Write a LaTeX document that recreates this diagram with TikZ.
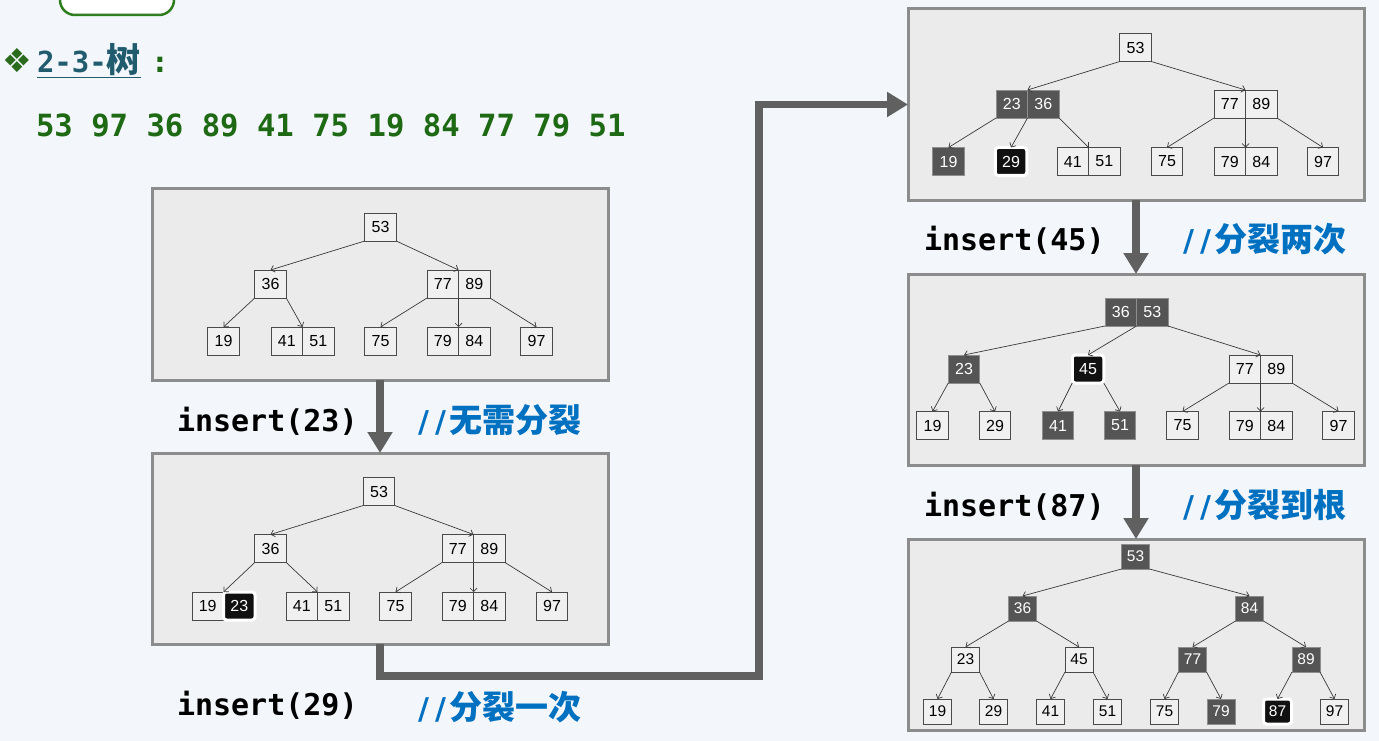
\documentclass[tikz,border=0pt]{standalone}
\usepackage{fontspec}
\usetikzlibrary{arrows.meta}
\newfontfamily\keyf{Liberation Sans}
\newfontfamily\monof{DejaVu Sans Mono}
\newfontfamily\cjkf{Noto Sans CJK SC}
\newfontfamily\djvf{DejaVu Sans}
\definecolor{bgc}{HTML}{F3F7FB}
\definecolor{panelfill}{HTML}{EBEBEB}
\definecolor{panelline}{HTML}{8C8C8C}
\definecolor{bigarr}{HTML}{606060}
\definecolor{kfill}{HTML}{F0F0F0}
\definecolor{kline}{HTML}{4A4A4A}
\definecolor{kdark}{HTML}{555555}
\definecolor{kdarkline}{HTML}{8E8E8E}
\definecolor{khl}{HTML}{111111}
\definecolor{tline}{HTML}{3A3A3A}
\definecolor{numgreen}{HTML}{1E6914}
\definecolor{titleteal}{HTML}{215B6E}
\definecolor{dgreen}{HTML}{2B6B1D}
\definecolor{boxgreen}{HTML}{2E7D1E}
\definecolor{cblue}{HTML}{0070C0}
\tikzset{
  panel/.style={draw=panelline, fill=panelfill, line width=3pt, inner sep=0pt, outer sep=0pt},
  key/.style={draw=kline, fill=kfill, line width=0.8pt, minimum width=31.5pt, minimum height=28pt,
    inner sep=0pt, outer sep=0pt, font=\keyf\fontsize{16pt}{18pt}\selectfont, text=black},
  dk/.style={key, fill=kdark, draw=kdarkline, line width=0.6pt, text=white},
  hl/.style={key, fill=khl, draw=white, line width=3pt, rounded corners=3pt, text=white},
  sk/.style={minimum width=28pt, minimum height=25pt, font=\keyf\fontsize{15.5pt}{17pt}\selectfont},
  tedge/.style={draw=tline, line width=0.7pt, -{Straight Barb[length=3.5pt,width=7pt]}},
  bigarrow/.style={draw=bigarr, line width=7.5pt, -{Triangle[length=21pt,width=24pt]}},
  lbl/.style={inner sep=0pt, outer sep=0pt, anchor=west},
  inslbl/.style={lbl, font=\monof\bfseries\fontsize{30pt}{31pt}\selectfont, text=black},
  cmt/.style={lbl, text=cblue},
}
\newcommand{\slashes}{{\djvf\bfseries\fontsize{30pt}{31pt}\selectfont \makebox[17pt][c]{/}\makebox[17pt][c]{/}}}
\newcommand{\cjkb}[1]{{\cjkf\bfseries\fontsize{33pt}{35pt}\selectfont #1}}
\begin{document}
\begin{tikzpicture}[x=1pt, y=-1pt]
\useasboundingbox (0,0) rectangle (1379,741);
\fill[bgc] (0,0) rectangle (1379,741);
\begin{scope}
\clip (0,0) rectangle (1379,741);
\draw[boxgreen, line width=2.5pt, fill=white, rounded corners=15pt] (60,-30) rectangle (174,15);
\end{scope}

% title
\node[lbl, text=dgreen, font=\djvf\fontsize{33pt}{35pt}\selectfont] (diam) at (2,61) {❖};
\node[lbl, text=titleteal] (title) at (37,61) {\underline{{\monof\bfseries\fontsize{29pt}{31pt}\selectfont 2-3-}{\cjkf\bfseries\fontsize{34pt}{36pt}\selectfont 树}}};
\node[text=numgreen, inner sep=0pt, font=\djvf\bfseries\fontsize{28pt}{30pt}\selectfont] (colon) at (160,65) {:};
\node[lbl, text=numgreen, font=\monof\bfseries\fontsize{30.6pt}{32pt}\selectfont] (seq) at (36,125) {53 97 36 89 41 75 19 84 77 79 51};

% panels
\node[panel, minimum width=456pt, minimum height=192pt] (PA) at (380,284) {};
\node[panel, minimum width=456pt, minimum height=191pt] (PB) at (380,548.5) {};
\node[panel, minimum width=456pt, minimum height=191pt] (PC) at (1136,104.5) {};
\node[panel, minimum width=456pt, minimum height=191pt] (PD) at (1136,369.5) {};
\node[panel, minimum width=456pt, minimum height=191pt] (PE) at (1136,634.5) {};

% big arrows
\coordinate (bend) at (759,676);
\draw[bigarrow] (PA.south) -- (PB.north);
\draw[bigarrow] (PB.south) |- (bend) |- (PC.west);
\draw[bigarrow] (PC.south) -- (PD.north);
\draw[bigarrow] (PD.south) -- (PE.north);

% labels
\node[inslbl] (i23) at (177,421) {insert(23)};
\node[cmt] (c23) at (415,420) {\slashes\cjkb{无需分裂}};
\node[inslbl] (i29) at (177,705) {insert(29)};
\node[cmt] (c29) at (415,707) {\slashes\cjkb{分裂一次}};
\node[inslbl] (i45) at (924,240) {insert(45)};
\node[cmt] (c45) at (1180,239) {\slashes\cjkb{分裂两次}};
\node[inslbl] (i87) at (924,506) {insert(87)};
\node[cmt] (c87) at (1180,505) {\slashes\cjkb{分裂到根}};

% ---------- panel A ----------
\node[key] (A53) at (380.5,227) {53};
\node[key] (A36) at (270.5,284) {36};
\node[key, anchor=west] (A77) at (427,284) {77};
\node[key, anchor=west] (A89) at (A77.east) {89};
\node[key] (A19) at (223.5,341) {19};
\node[key, anchor=west] (A41) at (271,341) {41};
\node[key, anchor=west] (A51) at (A41.east) {51};
\node[key] (A75) at (380.5,341) {75};
\node[key, anchor=west] (A79) at (427,341) {79};
\node[key, anchor=west] (A84) at (A79.east) {84};
\node[key] (A97) at (536.5,341) {97};
\draw[tedge] (A53.south west) -- (A36.north);
\draw[tedge] (A53.south east) -- (A77.north east);
\draw[tedge] (A36.south west) -- (A19.north);
\draw[tedge] (A36.south east) -- (A41.north east);
\draw[tedge] (A77.south west) -- (A75.north);
\draw[tedge] (A77.south east) -- (A79.north east);
\draw[tedge] (A89.south east) -- (A97.north);

% ---------- panel B ----------
\node[key] (B53) at (379,491.5) {53};
\node[key] (B36) at (270.5,548.5) {36};
\node[key, anchor=west] (B77) at (442,548.5) {77};
\node[key, anchor=west] (B89) at (B77.east) {89};
\node[key, anchor=west] (B19) at (192,606) {19};
\node[hl, anchor=west] (B23) at (B19.east) {23};
\node[key, anchor=west] (B41) at (286,606) {41};
\node[key, anchor=west] (B51) at (B41.east) {51};
\node[key] (B75) at (395.5,606) {75};
\node[key, anchor=west] (B79) at (442,606) {79};
\node[key, anchor=west] (B84) at (B79.east) {84};
\node[key] (B97) at (552,606) {97};
\draw[tedge] (B53.south west) -- (B36.north);
\draw[tedge] (B53.south east) -- (B77.north east);
\draw[tedge] (B36.south west) -- (B19.north east);
\draw[tedge] (B36.south east) -- (B41.north east);
\draw[tedge] (B77.south west) -- (B75.north);
\draw[tedge] (B77.south east) -- (B79.north east);
\draw[tedge] (B89.south east) -- (B97.north);

% ---------- panel C ----------
\node[key] (C53) at (1135.5,47.5) {53};
\node[dk, anchor=west] (C23) at (996,104) {23};
\node[dk, anchor=west] (C36) at (C23.east) {36};
\node[key, anchor=west] (C77) at (1214,104) {77};
\node[key, anchor=west] (C89) at (C77.east) {89};
\node[dk] (C19) at (948.5,161.5) {19};
\node[hl] (C29) at (1011,161.5) {29};
\node[key, anchor=west] (C41) at (1057,161.5) {41};
\node[key, anchor=west] (C51) at (C41.east) {51};
\node[key] (C75) at (1167,161.5) {75};
\node[key, anchor=west] (C79) at (1214,161.5) {79};
\node[key, anchor=west] (C84) at (C79.east) {84};
\node[key] (C97) at (1323,161.5) {97};
\draw[tedge] (C53.south west) -- (C23.north east);
\draw[tedge] (C53.south east) -- (C77.north east);
\draw[tedge] (C23.south west) -- (C19.north);
\draw[tedge] (C23.south east) -- (C29.north);
\draw[tedge] (C36.south east) -- (C41.north east);
\draw[tedge] (C77.south west) -- (C75.north);
\draw[tedge] (C77.south east) -- (C79.north east);
\draw[tedge] (C89.south east) -- (C97.north);

% ---------- panel D ----------
\node[dk, anchor=west] (D36) at (1105,312) {36};
\node[dk, anchor=west] (D53) at (D36.east) {53};
\node[dk] (D23) at (964,369) {23};
\node[hl] (D45) at (1088,369) {45};
\node[key, anchor=west] (D77) at (1229,369) {77};
\node[key, anchor=west] (D89) at (D77.east) {89};
\node[key] (D19) at (932.5,425.5) {19};
\node[key] (D29) at (995,425.5) {29};
\node[dk] (D41) at (1058,425.5) {41};
\node[dk] (D51) at (1120,425.5) {51};
\node[key] (D75) at (1182.5,425.5) {75};
\node[key, anchor=west] (D79) at (1229,425.5) {79};
\node[key, anchor=west] (D84) at (D79.east) {84};
\node[key] (D97) at (1338.5,425.5) {97};
\draw[tedge] (D36.south west) -- (D23.north);
\draw[tedge] (D36.south east) -- (D45.north);
\draw[tedge] (D53.south east) -- (D77.north east);
\draw[tedge] (D23.south west) -- (D19.north);
\draw[tedge] (D23.south east) -- (D29.north);
\draw[tedge] (D45.south west) -- (D41.north);
\draw[tedge] (D45.south east) -- (D51.north);
\draw[tedge] (D77.south west) -- (D75.north);
\draw[tedge] (D77.south east) -- (D79.north east);
\draw[tedge] (D89.south east) -- (D97.north);

% ---------- panel E ----------
\node[dk, sk] (E53) at (1135.5,556.5) {53};
\node[dk, sk] (E36) at (1022.5,608.5) {36};
\node[dk, sk] (E84) at (1249.5,608.5) {84};
\node[key, sk] (E23) at (965.5,659.5) {23};
\node[key, sk] (E45) at (1079,659.5) {45};
\node[dk, sk] (E77) at (1192.5,659.5) {77};
\node[dk, sk] (E89) at (1306,659.5) {89};
\node[key, sk] (E19) at (937.5,711.5) {19};
\node[key, sk] (E29) at (993.5,711.5) {29};
\node[key, sk] (E41) at (1050.5,711.5) {41};
\node[key, sk] (E51) at (1107.5,711.5) {51};
\node[key, sk] (E75) at (1164.5,711.5) {75};
\node[dk, sk] (E79) at (1221,711.5) {79};
\node[hl, sk] (E87) at (1277.5,711.5) {87};
\node[key, sk] (E97) at (1334.5,711.5) {97};
\draw[tedge] (E53.south west) -- (E36.north);
\draw[tedge] (E53.south east) -- (E84.north);
\draw[tedge] (E36.south west) -- (E23.north);
\draw[tedge] (E36.south east) -- (E45.north);
\draw[tedge] (E84.south west) -- (E77.north);
\draw[tedge] (E84.south east) -- (E89.north);
\draw[tedge] (E23.south west) -- (E19.north);
\draw[tedge] (E23.south east) -- (E29.north);
\draw[tedge] (E45.south west) -- (E41.north);
\draw[tedge] (E45.south east) -- (E51.north);
\draw[tedge] (E77.south west) -- (E75.north);
\draw[tedge] (E77.south east) -- (E79.north);
\draw[tedge] (E89.south west) -- (E87.north);
\draw[tedge] (E89.south east) -- (E97.north);
\end{tikzpicture}
\end{document}
